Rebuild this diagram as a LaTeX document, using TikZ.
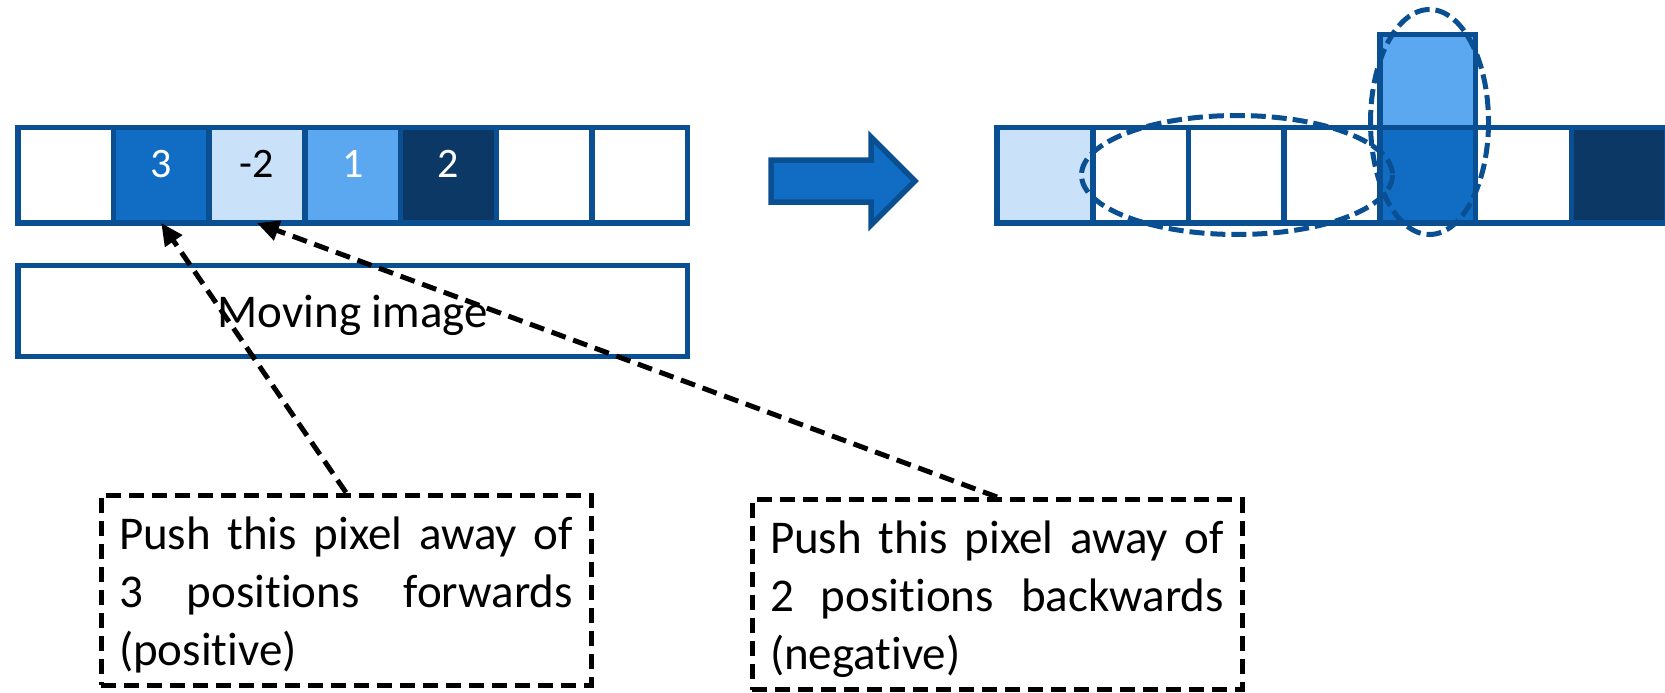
\documentclass[tikz,border=0pt]{standalone}
\usepackage{fontspec}
\setmainfont{Carlito}[Ligatures=NoCommon]
\usetikzlibrary{arrows.meta,positioning}

\begin{document}
\begin{tikzpicture}[x=1pt,y=-1pt,
    cell/.style={draw=cell_border,line width=5.5pt,minimum width=95.7pt,minimum height=95.5pt,
        inner sep=0pt,outer sep=0pt,text height=27pt,text depth=23.5pt,
        font=\fontsize{42}{50}\selectfont},
    notebox/.style={draw=black,line width=5pt,dash pattern=on 15pt off 8pt,text width=454pt,
        inner xsep=18pt,minimum height=190pt,align=justify,text height=42pt,
        font=\fontsize{47}{58}\selectfont},
    pusharrow/.style={draw=black,line width=5pt,dash pattern=on 15pt off 8pt,
        -{Triangle[length=22pt,width=20pt]}},
    ring/.style={draw=cell_border,line width=5pt,dash pattern=on 15pt off 6pt}]
    \definecolor{cell_border}{HTML}{0A4F91}
    \definecolor{cell_mid}{HTML}{116DC3}
    \definecolor{cell_pale}{HTML}{C9E2F9}
    \definecolor{cell_light}{HTML}{5BA8F0}
    \definecolor{cell_dark}{HTML}{0B3864}
    \useasboundingbox (0,0) rectangle (1665,693);
    \clip (0,0) rectangle (1665,693);
    %\draw[help lines,step=50] (0,0) grid (1665,693);

    % moving image strip
    \node[cell] (left0) at (65.6,175.25) {};
    \node[cell,fill=cell_mid,text=white] (left1) at (161.3,175.25) {3};
    \node[cell,fill=cell_pale] (left2) at (257.0,175.25) {-2};
    \node[cell,fill=cell_light,text=white] (left3) at (352.7,175.25) {1};
    \node[cell,fill=cell_dark,text=white] (left4) at (448.4,175.25) {2};
    \node[cell] (left5) at (544.1,175.25) {};
    \node[cell] (left6) at (639.8,175.25) {};
    \node[draw=cell_border,line width=5.5pt,minimum width=669.5pt,minimum height=91pt,
        inner sep=0pt,text height=36pt,text depth=4pt,
        font=\fontsize{47}{56}\selectfont] (movbox) at (352.7,311) {Moving image};

    % big arrow
    \path[fill=cell_mid,draw=cell_border,line width=5.5pt]
        (771,160) -- (871,160) -- (871,137) -- (915,181) -- (871,225) -- (871,202)
        -- (771,202) -- cycle;

    % result strip
    \node[cell,fill=cell_pale] (right0) at (1044.9,175.25) {};
    \node[cell] (right1) at (1140.6,175.25) {};
    \node[cell] (right2) at (1236.3,175.25) {};
    \node[cell] (right3) at (1332.0,175.25) {};
    \node[cell,fill=cell_mid] (right4) at (1427.7,175.25) {};
    \node[cell] (right5) at (1523.4,175.25) {};
    \node[cell,fill=cell_dark] (right6) at (1619.1,175.25) {};
    \node[cell,fill=cell_light,minimum height=92.75pt] (rightup4) [above=0pt of right4] {};
    \draw[ring] (1237,175) ellipse [x radius=155.5,y radius=59.5];
    \draw[ring] (1429.5,122) ellipse [x radius=59,y radius=112.5];

    % notes
    \node[notebox] (fwdbox) at (346,590)
        {Push this pixel away of\linebreak 3 positions forwards\linebreak (positive)};
    \node[notebox] (bwdbox) at (997,594.5)
        {Push this pixel away of\linebreak 2 positions backwards\linebreak (negative)};
    \draw[pusharrow] (fwdbox.north) -- (left1.south);
    \draw[pusharrow] (bwdbox.north) -- (left2.south);
\end{tikzpicture}
\end{document}
